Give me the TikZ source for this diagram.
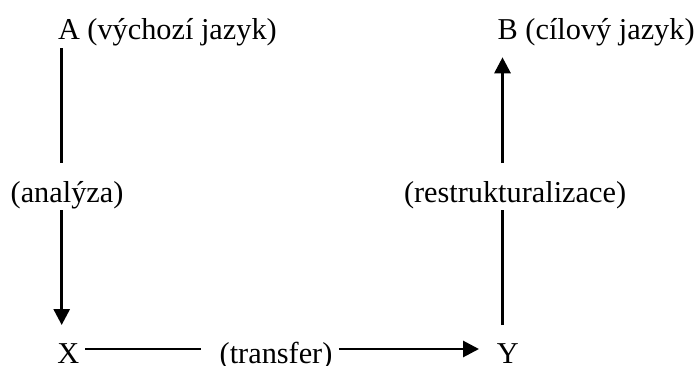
\documentclass[tikz,border=0pt]{standalone}
\usepackage{fontspec}
\setmainfont{Liberation Serif}
\usetikzlibrary{arrows.meta,calc}
\begin{document}
\begin{tikzpicture}[x=1pt,y=1pt,
  lbl/.style={anchor=base west, inner sep=0pt, outer sep=0pt,
              font=\fontsize{30.3}{36}\selectfont},
  conn/.style={line width=2.9pt},
  tip/.style={-{Triangle[length=16pt,width=16pt]}}]
\useasboundingbox (0,0) rectangle (700,365);

% labels
\node[lbl] (A)   at (58,325)    {A (výchozí jazyk)};
\node[lbl] (B)   at (497.7,325) {B (cílový jazyk)};
\node[lbl] (ana) at (10.7,162.3) {(analýza)};
\node[lbl] (res) at (404,162.3)  {(restrukturalizace)};
\node[lbl] (X)   at (57.3,1.7)   {X};
\node[lbl] (trn) at (219.7,1.7)  {(transfer)};
\node[lbl] (Y)   at (496.8,1.7)  {Y};

% columns of the vertical connectors
\coordinate (colL) at (61.7,0);
\coordinate (colR) at (502.5,0);

% A -> X through (analýza)
\draw[conn] ($(colL |- A.base)+(0,-8.3)$) -- ($(colL |- ana.base)+(0,39.4)$);
\draw[conn,tip] ($(colL |- ana.base)+(0,-7.3)$) -- ($(colL |- X.base)+(0,38.3)$);

% Y -> B through (restrukturalizace)
\draw[conn] ($(colR |- Y.base)+(0,38.3)$) -- ($(colR |- res.base)+(0,-7.3)$);
\draw[conn,tip] ($(colR |- res.base)+(0,39.7)$) -- ($(colR |- B.base)+(0,-17.3)$);

% X -> Y through (transfer)
\draw[conn] ($(X.base east)+(6,14.3)$) -- ($(trn.base west)+(-19,14.3)$);
\draw[conn,tip] ($(trn.base east)+(6.5,14.3)$) -- ($(Y.base west)+(-17.8,14.3)$);
\end{tikzpicture}
\end{document}
